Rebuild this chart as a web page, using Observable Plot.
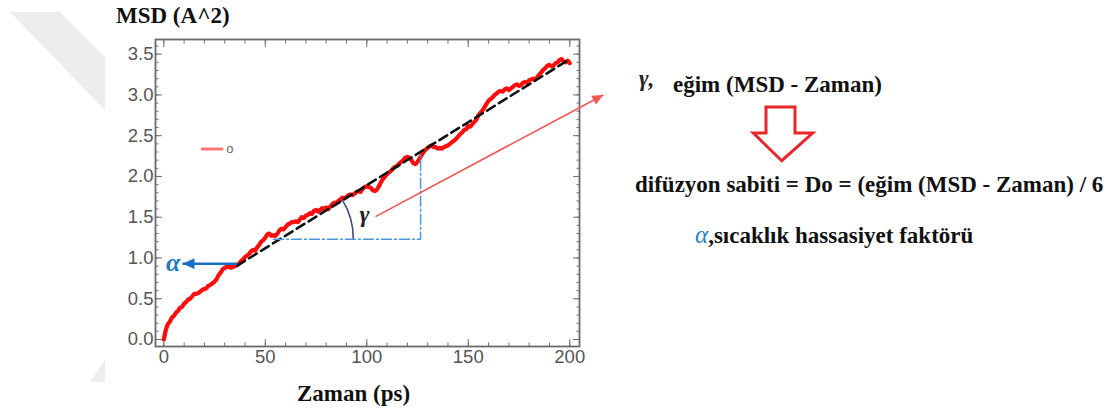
<!DOCTYPE html>
<html>
<head>
<meta charset="utf-8">
<script src="https://cdn.jsdelivr.net/npm/d3@7"></script>
<script src="https://cdn.jsdelivr.net/npm/@observablehq/plot@0.6"></script>
<style>
  html, body { margin: 0; padding: 0; background: #fff; }
  #wrap { position: relative; width: 1110px; height: 409px; overflow: hidden; }
  #wrap > svg { position: absolute; left: 0; top: 0; }
  .serif { font-family: "Liberation Serif", "Times New Roman", serif; font-weight: bold; fill: #111; }
</style>
</head>
<body>
<div id="wrap">
  <svg id="bg" width="1110" height="409">
    <polygon points="10,12 60,12 105,57 105,110" fill="#ededed"></polygon>
    <polygon points="90,382 105,360 105,382" fill="#ededed"></polygon>
  </svg>
</div>
<script>
// ---- data ----
const timePs = d3.range(0, 201); // 0..200 ps, 1 ps step
const msd = [
  0.00,0.12,0.19,0.22,0.27,0.29,0.33,0.35,0.39,0.40,
  0.44,0.46,0.49,0.50,0.53,0.56,0.56,0.57,0.59,0.61,
  0.62,0.63,0.66,0.67,0.69,0.71,0.74,0.79,0.82,0.86,
  0.88,0.89,0.90,0.88,0.89,0.90,0.91,0.93,0.96,0.98,
  1.01,1.03,1.05,1.08,1.10,1.09,1.13,1.16,1.20,1.22,
  1.25,1.29,1.30,1.27,1.28,1.27,1.30,1.34,1.36,1.35,
  1.38,1.41,1.42,1.44,1.44,1.45,1.44,1.47,1.50,1.49,
  1.52,1.53,1.55,1.54,1.58,1.59,1.57,1.59,1.61,1.60,
  1.62,1.60,1.63,1.66,1.68,1.67,1.70,1.72,1.74,1.73,
  1.75,1.77,1.78,1.77,1.79,1.81,1.82,1.81,1.85,1.87,
  1.88,1.87,1.86,1.83,1.82,1.84,1.88,1.93,1.97,2.00,
  2.03,2.05,2.07,2.10,2.12,2.13,2.16,2.18,2.20,2.23,
  2.24,2.23,2.20,2.16,2.15,2.18,2.22,2.26,2.30,2.33,
  2.35,2.37,2.38,2.36,2.36,2.34,2.35,2.34,2.36,2.37,
  2.38,2.40,2.42,2.44,2.46,2.49,2.52,2.54,2.57,2.58,
  2.62,2.61,2.64,2.67,2.70,2.75,2.78,2.81,2.85,2.89,
  2.93,2.95,2.97,3.00,3.02,3.04,3.05,3.04,3.07,3.08,
  3.06,3.08,3.10,3.12,3.13,3.11,3.12,3.15,3.16,3.15,
  3.18,3.19,3.20,3.19,3.22,3.25,3.28,3.31,3.33,3.36,
  3.37,3.35,3.36,3.39,3.40,3.43,3.44,3.41,3.40,3.42,
  3.39
];
const fitTime = [36.2, 198.8];
const fitMsd = [0.906, 3.42];
const guideTime = [54, 126.5, 126.5];
const guideMsd = [1.23, 1.23, 2.29];
const guideLevel = 1.23;
const legendTime = [18.9, 28.7];
const legendMsd = [2.337, 2.337];
const legendLabel = "o";
const alphaArrow = [{x1: 36.2, y1: 0.93, x2: 9.2, y2: 0.93}];
const gammaArrow = [{x1: 104.3, y1: 1.507, x2: 216.5, y2: 3.0}];
const gammaLabel = [{x: 98.9, y: 1.53, s: "γ"}];
const alphaLabel = [{x: 4.6, y: 0.94, s: "α"}];
const xTicks = [0, 50, 100, 150, 200];
const xMinor = [0,10,20,30,40,50,60,70,80,90,100,110,120,130,140,150,160,170,180,190,200];
const yTicks = [0, 0.5, 1.0, 1.5, 2.0, 2.5, 3.0, 3.5];
const yMinor = [0,0.1,0.2,0.3,0.4,0.5,0.6,0.7,0.8,0.9,1.0,1.1,1.2,1.3,1.4,1.5,1.6,1.7,1.8,1.9,
                2.0,2.1,2.2,2.3,2.4,2.5,2.6,2.7,2.8,2.9,3.0,3.1,3.2,3.3,3.4,3.5,3.6];
const xDomain = [-4.1, 204.8];
const yDomain = [-0.086, 3.68];

// ---- tables ----
const series = timePs.map((t, i) => ({t, m: msd[i]}));
const fit = fitTime.map((t, i) => ({t, m: fitMsd[i]}));
const guide = guideTime.map((t, i) => ({t, m: guideMsd[i]}));
const legend = legendTime.map((t, i) => ({t, m: legendMsd[i]}));

function headMarker(size) {
  return (color) => {
    const m = d3.create("svg:marker")
      .attr("viewBox", "-10 -5 10 10")
      .attr("markerWidth", size).attr("markerHeight", size)
      .attr("markerUnits", "userSpaceOnUse")
      .attr("orient", "auto")
      .attr("overflow", "visible");
    m.append("path").attr("d", "M-10,-4.5L0,0L-10,4.5Z").attr("fill", color).attr("stroke", "none");
    return m.node();
  };
}

// gamma angle arc, drawn through the plot's scales
function gammaArc(index, {x, y}) {
  const tC = fitTime[0] + (guideLevel - fitMsd[0]) * (fitTime[1] - fitTime[0]) / (fitMsd[1] - fitMsd[0]);
  const cx = x(tC), cy = y(guideLevel);
  const px1 = x(fitTime[0]), py1 = y(fitMsd[0]), px2 = x(fitTime[1]), py2 = y(fitMsd[1]);
  const th = Math.atan2(py1 - py2, px2 - px1);
  const r = 74;
  const path = d3.create("svg:path")
    .attr("d", `M${cx + r},${cy}A${r},${r} 0 0 0 ${cx + r * Math.cos(th)},${cy - r * Math.sin(th)}`)
    .attr("fill", "none").attr("stroke", "#3e4a78").attr("stroke-width", 1.6);
  return path.node();
}

const tickColor = "#707070";
const labelColor = "#555555";

const chart = Plot.plot({
  width: 1110,
  height: 409,
  marginLeft: 155,
  marginRight: 531,
  marginTop: 39,
  marginBottom: 63,
  style: {fontFamily: "'Liberation Sans', Arial, sans-serif", fontSize: "18.5px", color: labelColor, background: "transparent", overflow: "visible"},
  x: {domain: xDomain},
  y: {domain: yDomain},
  marks: [
    Plot.axisX(xMinor, {anchor: "bottom", tickSize: -3.5, fill: "none", stroke: tickColor, label: null}),
    Plot.axisX(xMinor, {anchor: "top", tickSize: -3.5, fill: "none", stroke: tickColor, label: null}),
    Plot.axisX(xTicks, {anchor: "bottom", tickSize: -7, fill: "none", stroke: tickColor, label: null}),
    Plot.axisX(xTicks, {anchor: "top", tickSize: -7, fill: "none", stroke: tickColor, label: null}),
    Plot.axisX(xTicks, {anchor: "bottom", tickSize: 0, tickPadding: 3, fill: labelColor, label: null}),
    Plot.axisY(yMinor, {anchor: "left", tickSize: -3.5, fill: "none", stroke: tickColor, label: null}),
    Plot.axisY(yMinor, {anchor: "right", tickSize: -3.5, fill: "none", stroke: tickColor, label: null}),
    Plot.axisY(yTicks, {anchor: "left", tickSize: -7, fill: "none", stroke: tickColor, label: null}),
    Plot.axisY(yTicks, {anchor: "right", tickSize: -7, fill: "none", stroke: tickColor, label: null}),
    Plot.axisY(yTicks, {anchor: "left", tickSize: 0, tickPadding: 2, fill: labelColor, label: null, tickFormat: d3.format(".1f")}),
    Plot.frame({stroke: "#6a6a6a", strokeWidth: 1.8}),
    Plot.line(legend, {x: "t", y: "m", stroke: "#ff7676", strokeWidth: 3}),
    Plot.text([legendLabel], {x: 32.5, y: 2.337, text: d => d, fontSize: 13, fill: "#666", fontFamily: "'Liberation Sans', Arial, sans-serif"}),
    Plot.line(series, {x: "t", y: "m", stroke: "#ff0d0d", strokeWidth: 4.2, strokeLinejoin: "round"}),
    Plot.line(fit, {x: "t", y: "m", stroke: "#111", strokeWidth: 2.6, strokeDasharray: "9,5"}),
    Plot.line(guide, {x: "t", y: "m", stroke: "#4d97d6", strokeWidth: 1.5, strokeDasharray: "10,3,2,3"}),
    gammaArc,
    Plot.link(gammaArrow, {x1: "x1", y1: "y1", x2: "x2", y2: "y2", stroke: "#f25555", strokeWidth: 1.6, markerEnd: headMarker(11)}),
    Plot.link(alphaArrow, {x1: "x1", y1: "y1", x2: "x2", y2: "y2", stroke: "#1b6fc2", strokeWidth: 2.6, markerEnd: headMarker(12)}),
    Plot.text(gammaLabel, {x: "x", y: "y", text: "s", fontSize: 24, fontStyle: "italic", fontWeight: "bold", fontFamily: "'Liberation Serif', serif", fill: "#222"}),
    Plot.text(alphaLabel, {x: "x", y: "y", text: "s", fontSize: 26, fontStyle: "italic", fontWeight: "bold", fontFamily: "'Liberation Serif', serif", fill: "#1f78c6"})
  ]
});
document.getElementById("wrap").appendChild(chart);

// ---- annotation texts and the hollow arrow ----
const over = d3.select("#wrap").append("svg").attr("width", 1110).attr("height", 409).style("pointer-events", "none");
over.append("text").attr("class", "serif").attr("x", 116).attr("y", 23).attr("font-size", 23).text("MSD (A^2)");
over.append("text").attr("class", "serif").attr("x", 297).attr("y", 401).attr("font-size", 23).text("Zaman (ps)");
over.append("text").attr("class", "serif").attr("x", 639).attr("y", 86).attr("font-size", 23)
  .attr("font-style", "italic").attr("font-weight", "normal").style("fill", "#222").text("γ,");
over.append("text").attr("class", "serif").attr("x", 673).attr("y", 92).attr("font-size", 23).text("eğim (MSD - Zaman)");
over.append("polygon")
  .attr("points", "766,107 795,107 795,133 812.7,133 781.7,160.7 753.3,133 766,133")
  .attr("fill", "#fff").attr("stroke", "#e8262c").attr("stroke-width", 3).attr("stroke-linejoin", "miter");
over.append("text").attr("class", "serif").attr("x", 635).attr("y", 192).attr("font-size", 23)
  .text("difüzyon sabiti = Do = (eğim (MSD - Zaman) / 6");
const t3 = over.append("text").attr("class", "serif").attr("x", 695).attr("y", 243).attr("font-size", 23);
t3.append("tspan").attr("font-style", "italic").attr("font-weight", "normal").style("fill", "#2b80c8").attr("font-size", 25).text("α");
t3.append("tspan").text(",sıcaklık hassasiyet faktörü");
</script>
</body>
</html>
